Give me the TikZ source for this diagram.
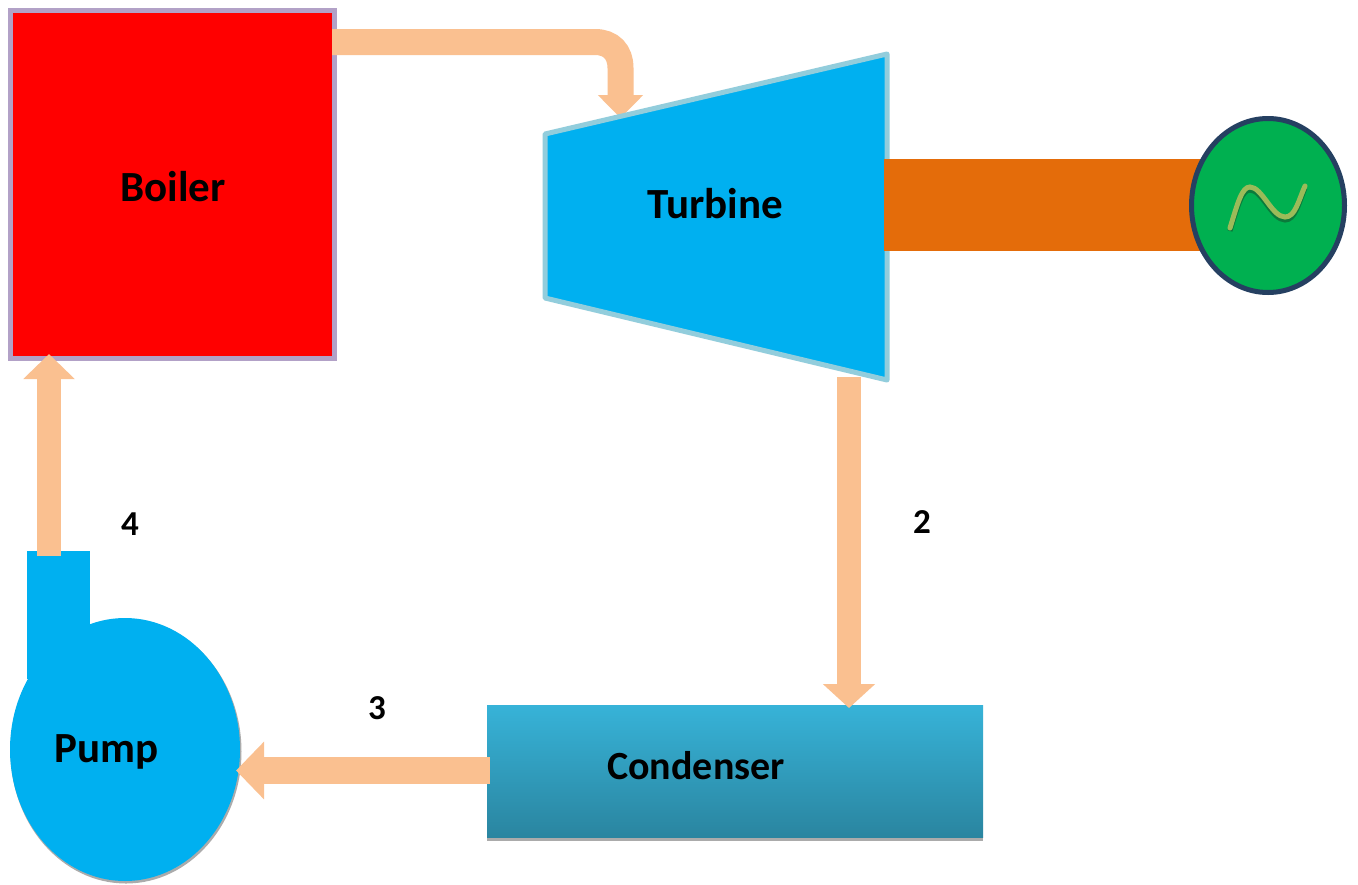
\documentclass[tikz,border=0pt]{standalone}
\usepackage{fontspec}
\setmainfont{Carlito}
\usetikzlibrary{arrows.meta,shapes.geometric,fadings}
\definecolor{pipe}{HTML}{FAC090}
\definecolor{cyanfill}{HTML}{00B0F0}
\definecolor{turbedge}{HTML}{92CDDC}
\definecolor{boiledge}{HTML}{B2A1C7}
\definecolor{shaftc}{HTML}{E46C0A}
\definecolor{genfill}{HTML}{00B050}
\definecolor{genedge}{HTML}{254061}
\definecolor{sinec}{HTML}{9BBB59}
\definecolor{sineshadow}{HTML}{0B7A3B}
\definecolor{condtop}{HTML}{37B3D8}
\definecolor{condbot}{HTML}{2A85A0}
\definecolor{shadowc}{HTML}{ABABAB}
\tikzset{
  bigtext/.style={font=\fontsize{43}{43}\selectfont\bfseries,anchor=base,inner sep=0pt,text=black},
  numtext/.style={font=\fontsize{35}{35}\selectfont\bfseries,anchor=base,inner sep=0pt,text=black},
  pipearrow/.style={draw=pipe,line width=#1},
  pipearrow/.default=24pt,
  blank/.style={inner sep=0pt,outer sep=0pt}
}
\begin{document}
\begin{tikzpicture}[x=1pt,y=-1pt]
\useasboundingbox (0,0) rectangle (1358,884);
\fill[white] (0,0) rectangle (1358,884);
% boiler
\node[blank,draw=boiledge,fill=red,line width=5pt,minimum width=324pt,minimum height=348pt] (boiler) at (172.5,184) {};
\coordinate (boilerOut) at (332,42);
\coordinate (boilerIn) at (49,354);
\coordinate (turbIn) at (620.5,118);
\coordinate (turbOut) at (849,377);
\coordinate (condIn) at (849,708);
\coordinate (condOut) at (490,770.5);
\coordinate (pumpIn) at (236,770.5);
\coordinate (pumpOut) at (49,556);
% steam pipe
\draw[draw=pipe,line width=26pt,-{Triangle[width=44pt,length=23pt]}]
  (boilerOut) -- (595,42) .. controls (611,42) and (620.5,52) .. (620.5,68) -- (turbIn);
% turbine
\draw[draw=turbedge,fill=cyanfill,line width=5pt,line join=round] (545,134) -- (887,54) -- (887,380) -- (545,298) -- cycle;
% shaft
\node[blank,fill=shaftc,minimum width=320pt,minimum height=92pt] (shaft) at (1044,205) {};
% generator
\node[blank,ellipse,draw=genedge,fill=genfill,line width=5pt,minimum width=153pt,minimum height=174pt] (gen) at (1268,205.5) {};
\draw[sineshadow,line width=5pt] (1230,231) .. controls (1238,205) and (1242,190) .. (1250,190) .. controls (1262,190) and (1272,220) .. (1285,220) .. controls (1295,220) and (1298,205) .. (1305,188);
\draw[sinec,line width=5pt,line cap=round] (1230,228) .. controls (1238,202) and (1242,187) .. (1250,187) .. controls (1262,187) and (1272,217) .. (1285,217) .. controls (1295,217) and (1298,202) .. (1305,186);
% pump
\fill[shadowc] (126,751.5) ellipse [x radius=115.5,y radius=132];
\node[blank,ellipse,fill=cyanfill,minimum width=230pt,minimum height=263pt] (pump) at (125,749.5) {};
\node[blank,fill=cyanfill,minimum width=63pt,minimum height=128pt] (outlet) at (58.5,615) {};
% condenser
\fill[shadowc] (487,712) rectangle (983,841);
\node[blank,top color=condtop,bottom color=condbot,minimum width=496pt,minimum height=132pt] (cond) at (735,771) {};
% connectors
\draw[pipearrow,-{Triangle[width=50pt,length=25pt]}] (pumpOut) -- (boilerIn);
\draw[pipearrow,-{Triangle[width=51pt,length=24pt]}] (turbOut) -- (condIn);
\draw[draw=pipe,line width=27pt,-{Triangle[width=56pt,length=28pt]}] (condOut) -- (pumpIn);
% labels
\node[bigtext] (tBoiler) at (173,201) {Boiler};
\node[bigtext] (tTurbine) at (715,218) {Turbine};
\node[bigtext] (tPump) at (107,762) {Pump};
\node[bigtext,font=\fontsize{40}{40}\selectfont\bfseries] (tCond) at (696,779) {Condenser};
\node[numtext] (n4) at (130,535) {4};
\node[numtext] (n2) at (922,533) {2};
\node[numtext] (n3) at (377,719) {3};
\end{tikzpicture}
\end{document}
